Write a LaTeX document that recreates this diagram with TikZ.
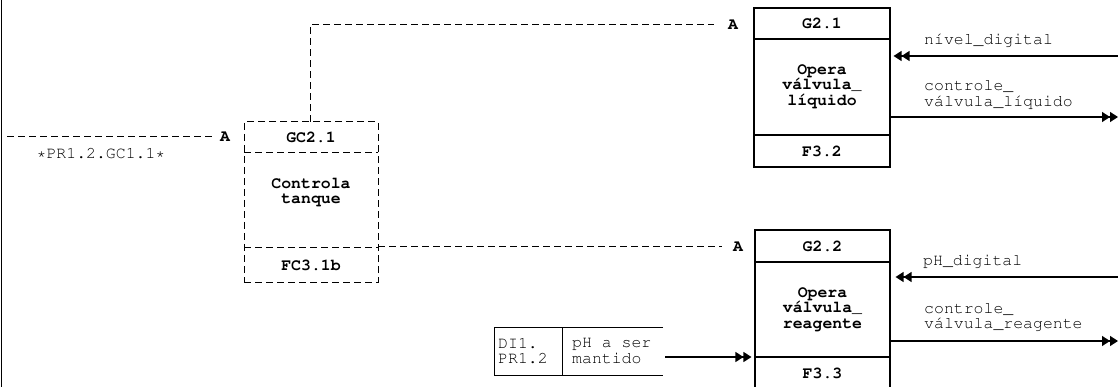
\documentclass[tikz,border=0pt]{standalone}
\usepackage[T1,TU]{fontenc}
\usetikzlibrary{arrows.meta}
\newcommand\courfont{\fontencoding{T1}\fontfamily{pcr}\fontsize{16.5}{15.5}\selectfont}
\begin{document}
\begin{tikzpicture}[x=1pt,y=-1pt,
  font=\courfont,
  solidbox/.style={draw, line width=1.1pt, inner sep=0pt},
  dashbox/.style={draw, line width=1pt, dash pattern=on 7pt off 4pt, inner sep=0pt},
  dline/.style={line width=1pt, dash pattern=on 7pt off 4pt},
  sline/.style={line width=1.2pt},
  thinline/.style={line width=0.9pt},
  dbl/.style={-{Triangle[length=8pt,width=10pt]Triangle[length=8pt,width=10pt]}},
  lbl/.style={inner sep=0pt, align=left, anchor=west},
  bl/.style={inner sep=0pt, align=center, font=\courfont\bfseries},
]
\useasboundingbox (0,0) rectangle (1118,387);

% left frame line
\draw[sline] (1.5,0) -- (1.5,387);

% incoming reference on the left
\coordinate (lin) at (7,137);
\node[bl] (A0) at (225,137) {A};
\draw[dline, shorten >=6pt] (lin) -- (A0.west);
\node[inner sep=0pt] (pr) at (101,153) {*PR1.2.GC1.1*};

% GC2.1 box (dashed)
\node[dashbox, minimum width=134pt, minimum height=160pt] (gc) at (311,202) {};
\draw[dline] (244,153) -- (378,153);
\draw[dline] (244,248) -- (378,248);
\node[bl] (gct) at (311,137) {GC2.1};
\node[bl] (gcm) at (311,192) {Controla\\tanque};
\node[bl] (gcb) at (311,265) {FC3.1b};

% dashed links
\coordinate (gcup) at (310,122);
\node[bl] (A1) at (733,25) {A};
\draw[dline, shorten >=14pt] (gcup) |- (A1);
\coordinate (gcr) at (378,247);
\node[bl] (A2) at (738,247) {A};
\draw[dline, shorten >=11pt] (gcr) -- (A2.west);

% G2.1 box
\node[solidbox, minimum width=136pt, minimum height=159pt] (g1) at (822,87.5) {};
\draw[sline] (754,39) -- (890,39);
\draw[sline] (754,135) -- (890,135);
\node[bl] (g1t) at (822,23) {G2.1};
\node[bl] (g1m) at (822,86) {Opera\\válvula\_\\líquido};
\node[bl] (g1b) at (822,151) {F3.2};

\coordinate (r1) at (1118,56);
\draw[sline, dbl, shorten >=3pt] (r1) -- (g1.east |- r1);
\node[lbl] (l1) at (924,40) {nível\_digital};
\coordinate (r2) at (1118,117);
\draw[sline, dbl] (g1.east |- r2) -- (r2);
\node[lbl] (l2) at (924,94.5) {controle\_\\válvula\_líquido};

% G2.2 box (bottom cut off by the page edge)
\node[solidbox, minimum width=135pt, minimum height=162pt] (g2) at (822.5,311) {};
\draw[sline] (755,262) -- (890,262);
\draw[sline] (755,357) -- (890,357);
\node[bl] (g2t) at (822.5,246) {G2.2};
\node[bl] (g2m) at (822.5,309) {Opera\\válvula\_\\reagente};
\node[bl] (g2b) at (822.5,373) {F3.3};

\coordinate (r3) at (1118,277);
\draw[sline, dbl, shorten >=5pt] (r3) -- (g2.east |- r3);
\node[lbl] (l3) at (923,261) {pH\_digital};
\coordinate (r4) at (1118,341);
\draw[sline, dbl] (g2.east |- r4) -- (r4);
\node[lbl] (l4) at (924,317) {controle\_\\válvula\_reagente};

% DI1.PR1.2 store
\draw[thinline] (663,327) -- (494,327) -- (494,375) -- (663,375);
\draw[thinline] (562,327) -- (562,375);
\node[lbl] (di) at (498,351) {DI1.\\PR1.2};
\node[lbl] (ph) at (572,351) {pH a ser\\mantido};
\coordinate (dio) at (665,357);
\draw[sline, dbl, shorten >=3pt] (dio) -- (g2.west |- dio);
\end{tikzpicture}
\end{document}
